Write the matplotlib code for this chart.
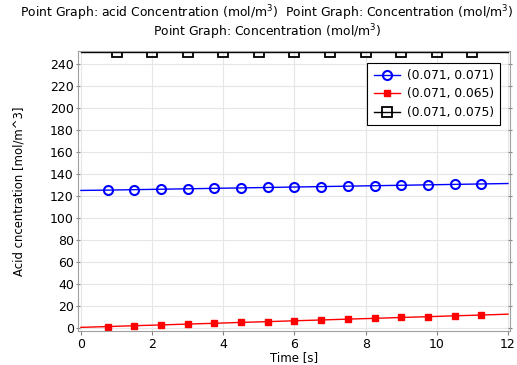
import matplotlib
matplotlib.use("Agg")
import matplotlib.pyplot as plt

# time grids
t_fine = [0, 0.75, 1.5, 2.25, 3.0, 3.75, 4.5, 5.25, 6.0, 6.75, 7.5, 8.25,
          9.0, 9.75, 10.5, 11.25, 12.0]
t_coarse = [0, 1, 2, 3, 4, 5, 6, 7, 8, 9, 10, 11, 12]

# series
blue_vals = [124.8, 125.1, 125.5, 125.9, 126.3, 126.7, 127.1, 127.5, 127.9,
             128.3, 128.7, 129.1, 129.5, 129.9, 130.3, 130.7, 131.1]
red_vals = [0.2, 0.9, 1.7, 2.4, 3.2, 3.9, 4.7, 5.4, 6.2, 6.9, 7.7, 8.4,
            9.2, 9.9, 10.7, 11.4, 12.2]
black_vals = [250.5] * 13

labels = ["(0.071, 0.071)", "(0.071, 0.065)", "(0.071, 0.075)"]

fig = plt.figure(figsize=(5.17, 3.65), dpi=100)
ax = fig.add_axes([0.151, 0.092, 0.835, 0.768])

ax.plot(t_fine, blue_vals, color="blue", lw=1, marker="o", ms=6.5,
        mfc="none", mew=1.5, markevery=slice(1, 16), label=labels[0])
ax.plot(t_fine, red_vals, color="red", lw=1, marker="s", ms=5,
        mfc="red", mec="red", markevery=slice(1, 16), label=labels[1])
ax.plot(t_coarse, black_vals, color="black", lw=1, marker="s", ms=7,
        mfc="none", mew=1.3, markevery=slice(1, 12), label=labels[2])

ax.set_xlim(-0.08, 12.05)
ax.set_ylim(-3.5, 251.6)
ax.set_xticks(range(0, 13, 2))
ax.set_yticks(range(0, 241, 20))
ax.grid(True, color="#e6e6e6", lw=0.8)
ax.set_axisbelow(True)
for s in ax.spines.values():
    s.set_color("#a0a0a0")
ax.tick_params(labelsize=9, length=3, color="#808080", pad=1.5)
ax.tick_params(axis="y", right=True, direction="inout")

ax.set_xlabel("Time [s]", fontsize=8.5)
ax.xaxis.set_label_coords(0.5, -0.07)
ax.set_ylabel("Acid cncentration [mol/m^3]", fontsize=8.4, labelpad=18)

leg = ax.legend(loc="upper right", fontsize=8.8, fancybox=False,
                edgecolor="black", framealpha=1, borderpad=0.5,
                labelspacing=0.45, handlelength=2.2, handletextpad=0.5,
                borderaxespad=0, bbox_to_anchor=(0.977, 0.958))
leg.get_frame().set_linewidth(0.8)

fig.text(0.516, 0.965, "Point Graph: acid Concentration (mol/m$^3$)  "
         "Point Graph: Concentration (mol/m$^3$)", ha="center", va="center",
         fontsize=8.9)
fig.text(0.516, 0.913, "Point Graph: Concentration (mol/m$^3$)",
         ha="center", va="center", fontsize=8.9)

fig.savefig("out.png", dpi=100)
